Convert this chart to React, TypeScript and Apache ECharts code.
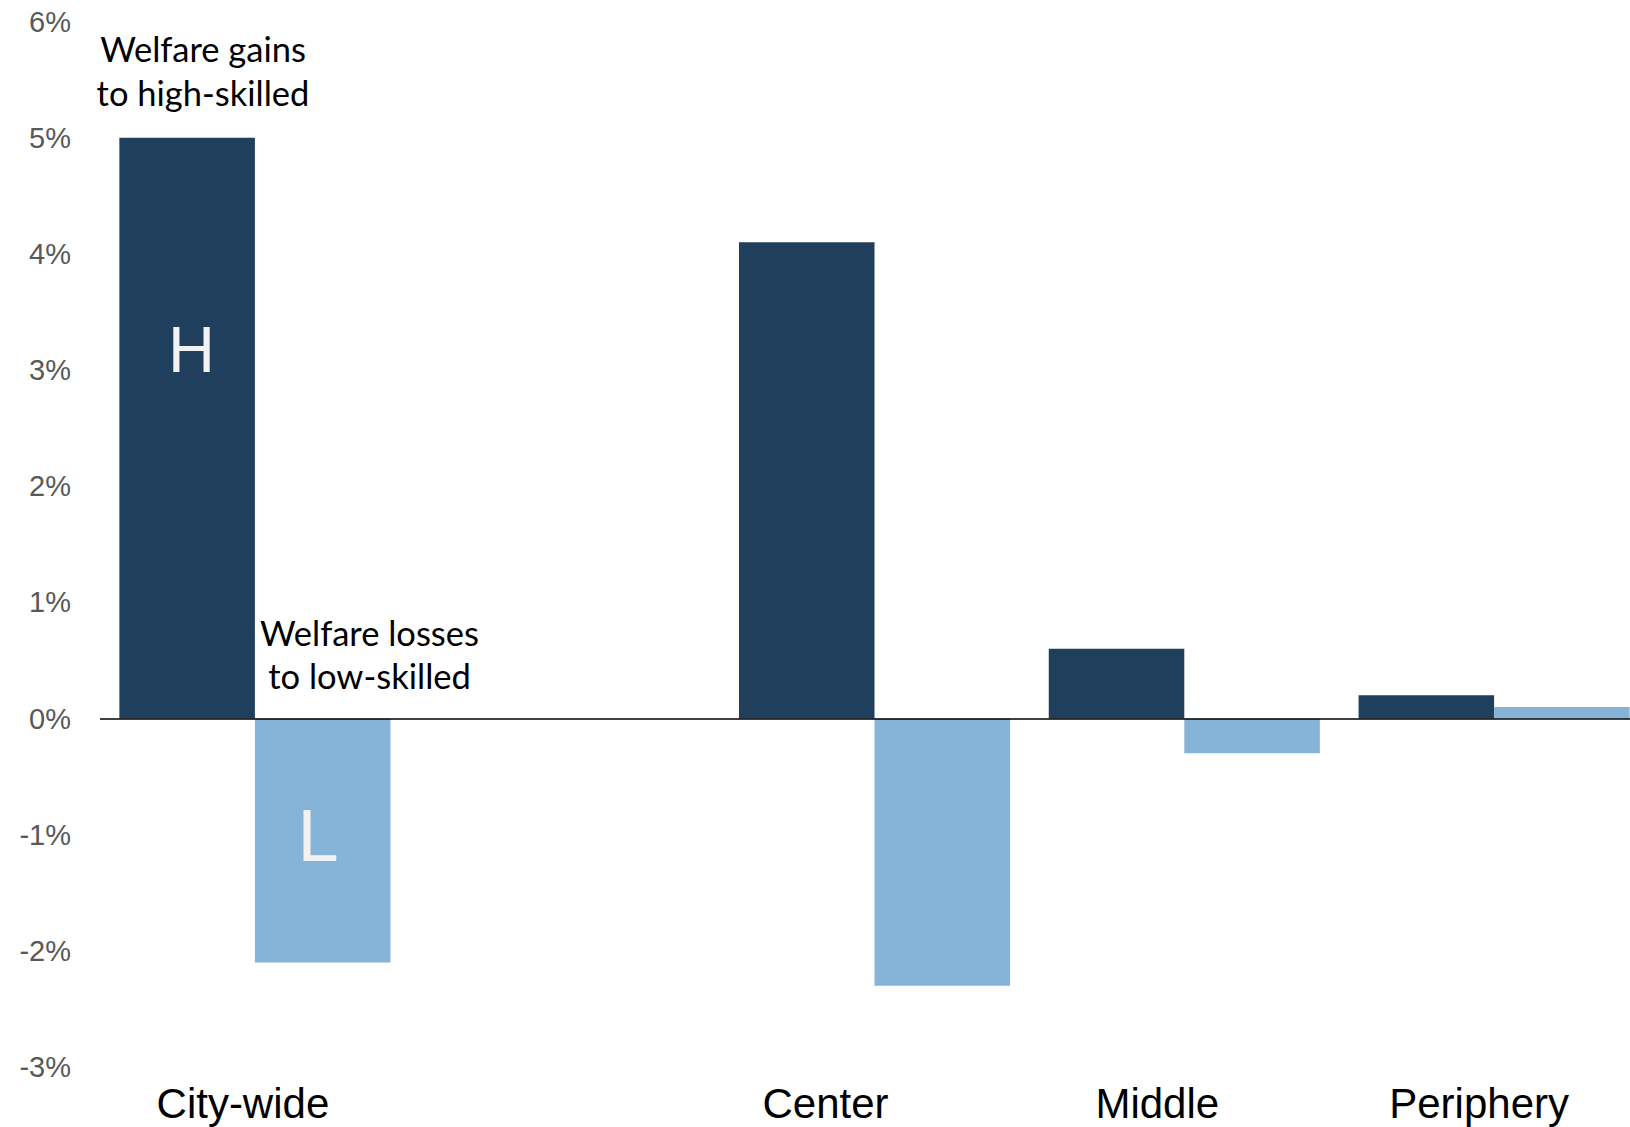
import React, { useEffect, useRef } from "react";
import * as echarts from "echarts";

// Welfare change by skill group and location
const categories = ["City-wide", "", "Center", "Middle", "Periphery"];
const highSkilled = [5.0, null, 4.1, 0.6, 0.2];
const lowSkilled = [-2.1, null, -2.3, -0.3, 0.1];
const yMin = -3;
const yMax = 6;
const yStep = 1;

const DARK = "#1F3F5D";
const LIGHT = "#86B4D8";
const AXIS_FONT = "'Liberation Sans', Arial, sans-serif";
const NOTE_FONT = "Lato, 'Open Sans', sans-serif";

// horizontal nudge (px, leftwards) of each category caption
const captionShift: Record<string, number> = {
  "City-wide": 12,
  Center: 49,
  Middle: 27,
  Periphery: 15,
};

export default function App() {
  const ref = useRef<HTMLDivElement>(null);

  useEffect(() => {
    if (!ref.current) return;
    const chart = echarts.init(ref.current, undefined, { renderer: "svg" });

    const rich: Record<string, any> = {};
    categories.forEach((c, i) => {
      rich["c" + i] = {
        fontFamily: AXIS_FONT,
        fontSize: 42,
        color: "#000",
        padding: [0, 2 * (captionShift[c] || 0), 0, 0],
      };
    });

    chart.setOption({
      animation: false,
      backgroundColor: "#fff",
      grid: { left: 100, right: 0, top: 21.5, bottom: 60 },
      xAxis: {
        type: "category",
        data: categories,
        axisLine: { show: false, onZero: false },
        axisTick: { show: false },
        splitLine: { show: false },
        axisLabel: {
          interval: 0,
          margin: 15,
          formatter: (v: string, idx: number) => (v ? `{c${idx}|${v}}` : ""),
          rich,
        },
      },
      yAxis: {
        type: "value",
        min: yMin,
        max: yMax,
        interval: yStep,
        axisLine: { show: false },
        axisTick: { show: false },
        splitLine: { show: false },
        axisLabel: {
          formatter: "{value}%",
          fontFamily: AXIS_FONT,
          fontSize: 29,
          color: "#595959",
          margin: 29,
        },
      },
      series: [
        {
          name: "High-skilled",
          type: "bar",
          data: highSkilled,
          barGap: "0%",
          barCategoryGap: "12.5%",
          itemStyle: { color: DARK },
          markLine: {
            silent: true,
            symbol: ["none", "none"],
            label: { show: false },
            lineStyle: { color: "#000", width: 1.5, type: "solid" },
            data: [{ yAxis: 0 }],
          },
        },
        {
          name: "Low-skilled",
          type: "bar",
          data: lowSkilled,
          barGap: "0%",
          barCategoryGap: "12.5%",
          itemStyle: { color: LIGHT },
        },
      ],
      graphic: [
        {
          type: "text",
          x: 203,
          y: 70,
          style: {
            text: "Welfare gains\nto high-skilled",
            font: `34.5px ${NOTE_FONT}`,
            fill: "#000",
            align: "center",
            verticalAlign: "middle",
            lineHeight: 44,
          },
        },
        {
          type: "text",
          x: 369.5,
          y: 654,
          style: {
            text: "Welfare losses\nto low-skilled",
            font: `34.5px ${NOTE_FONT}`,
            fill: "#000",
            align: "center",
            verticalAlign: "middle",
            lineHeight: 43,
          },
        },
        {
          type: "text",
          x: 191.5,
          y: 349,
          z: 10,
          style: {
            text: "H",
            font: `65px ${AXIS_FONT}`,
            fill: "#F2F2F2",
            align: "center",
            verticalAlign: "middle",
          },
        },
        {
          type: "text",
          x: 318,
          y: 835,
          z: 10,
          style: {
            text: "L",
            font: `74px ${AXIS_FONT}`,
            fill: "#F2F2F2",
            align: "center",
            verticalAlign: "middle",
          },
        },
      ],
    });

    return () => chart.dispose();
  }, []);

  // The plot runs past the right edge of the page; the frame crops it.
  return (
    <div
      style={{
        position: "absolute",
        left: 0,
        top: 0,
        width: 1630,
        height: 1127,
        overflow: "hidden",
        background: "#fff",
      }}
    >
      <div ref={ref} style={{ width: 1649, height: 1127 }} />
    </div>
  );
}
